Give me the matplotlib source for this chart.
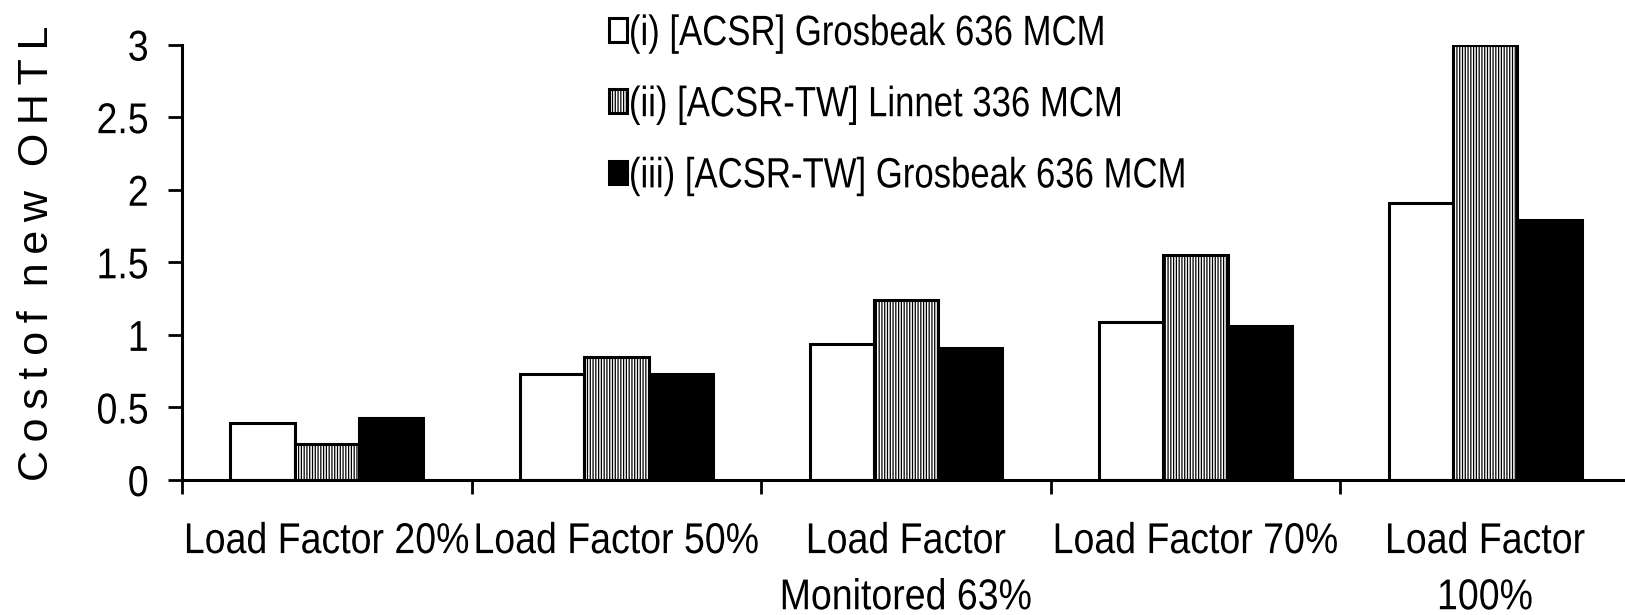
import matplotlib.pyplot as plt
import numpy as np
from matplotlib.patheffects import AbstractPathEffect
from matplotlib.transforms import Affine2D

categories = ['Load Factor 20%', 'Load Factor 50%', 'Load Factor\nMonitored 63%',
              'Load Factor 70%', 'Load Factor\n100%']
series_names = ['(i) [ACSR] Grosbeak 636 MCM',
                '(ii) [ACSR-TW] Linnet 336 MCM',
                '(iii) [ACSR-TW] Grosbeak 636 MCM']
acsr_grosbeak = [0.39, 0.73, 0.94, 1.09, 1.91]
tw_linnet = [0.25, 0.85, 1.24, 1.55, 3.0]
tw_grosbeak = [0.43, 0.73, 0.91, 1.06, 1.79]
yticks = [0, 0.5, 1, 1.5, 2, 2.5, 3]
ytick_labels = ['0', '0.5', '1', '1.5', '2', '2.5', '3']


# the original uses a narrow Arial: draw a smaller font and stretch it up
class Stretch(AbstractPathEffect):
    def __init__(self, sx=1.0, sy=1.0, anchor='center'):
        super().__init__()
        self.sx = sx
        self.sy = sy
        self.anchor = anchor

    def draw_path(self, renderer, gc, tpath, affine, rgbFace=None):
        v = tpath.vertices
        if len(v) == 0:
            renderer.draw_path(gc, tpath, affine, rgbFace)
            return
        x0, x1 = v[:, 0].min(), v[:, 0].max()
        cx = {'left': x0, 'right': x1, 'center': (x0 + x1) / 2}[self.anchor]
        cy = 36  # middle of the cap height, in text path units
        t = Affine2D().translate(-cx, -cy).scale(self.sx, self.sy).translate(cx, cy)
        renderer.draw_path(gc, tpath, t + affine, rgbFace)


plt.rcParams['font.family'] = ['Liberation Sans', 'DejaVu Sans']
plt.rcParams['hatch.linewidth'] = 0.9

fig = plt.figure(figsize=(16.25, 6.15), dpi=100)
ax = fig.add_axes([0.112, 0.2195, 0.891, 0.708])

x = np.arange(len(categories)) + 0.5
w = 0.222
ax.bar(x - w, acsr_grosbeak, w, color='white', edgecolor='black', linewidth=2.2,
       label=series_names[0])
ax.bar(x, tw_linnet, w, color='white', edgecolor='black', linewidth=2.2,
       hatch='||||||', label=series_names[1])
ax.bar(x + w, tw_grosbeak, w, color='black', edgecolor='black', linewidth=2.2,
       label=series_names[2])

ax.set_xlim(0, 5)
ax.set_ylim(0, 3)
ax.set_yticks(yticks)
ax.set_yticklabels(ytick_labels)
ax.set_xticks(np.arange(0, 6))
ax.set_xticklabels([])
ax.set_xticks(x, minor=True)
ax.set_xticklabels(categories, minor=True, linespacing=1.72)

ax.tick_params(axis='y', which='major', direction='out', length=10, width=2,
               labelsize=27, pad=14)
ax.tick_params(axis='x', which='major', direction='out', length=10, width=2)
ax.tick_params(axis='x', which='minor', length=0, labelsize=27, pad=31)

for lab in ax.get_yticklabels():
    lab.set_path_effects([Stretch(1.0, 1.15, 'right')])
for lab in ax.get_xticklabels(minor=True):
    lab.set_path_effects([Stretch(1.0, 1.15, 'center')])

for s in ['top', 'right']:
    ax.spines[s].set_visible(False)
for s in ['left', 'bottom']:
    ax.spines[s].set_linewidth(2.2)

ylab = '\u2009'.join('Cost') + ' ' + '\u2009'.join('of') + '  ' + \
    '\u2009'.join('new') + '  ' + '\u2009'.join('OHTL')
ax.set_ylabel(ylab, fontsize=31, labelpad=28.5)
ax.yaxis.label.set_y(0.52)

leg = ax.legend(loc='upper left', bbox_to_anchor=(0.295, 1.065), frameon=False,
                fontsize=25, handlelength=0.52, handleheight=0.68, handletextpad=0.05,
                labelspacing=1.1, borderaxespad=0, borderpad=0)
for t in leg.get_texts():
    t.set_path_effects([Stretch(1.0, 1.22, 'left')])

fig.savefig('out.png', dpi=100)
